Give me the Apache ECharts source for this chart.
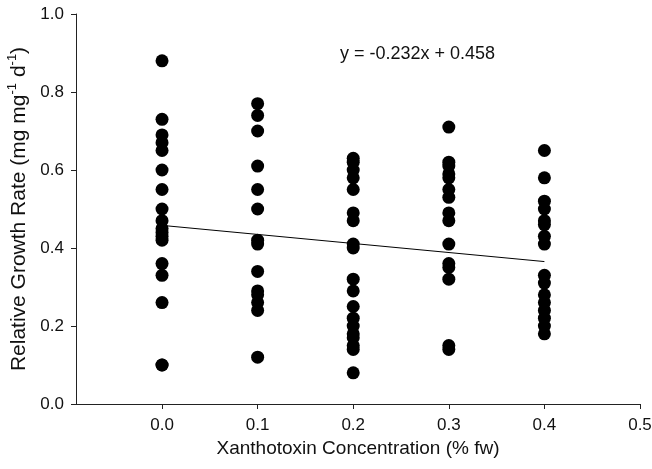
<!DOCTYPE html>
<html><head><meta charset="utf-8">
<script src="https://cdn.jsdelivr.net/npm/echarts@6/dist/echarts.min.js"></script>
<style>html,body{margin:0;padding:0;background:#fff}#c{width:652px;height:469px}</style>
</head><body><div id="c"></div>
<script>
const concentrations = [0.0, 0.1, 0.2, 0.3, 0.4];
const rgr00 = [0.88, 0.73, 0.69, 0.67, 0.65, 0.60, 0.55, 0.50, 0.47, 0.45, 0.44, 0.43, 0.42, 0.36, 0.33, 0.26, 0.10, 0.10];
const rgr01 = [0.77, 0.74, 0.70, 0.61, 0.55, 0.50, 0.42, 0.41, 0.34, 0.29, 0.28, 0.26, 0.24, 0.12];
const rgr02 = [0.63, 0.62, 0.60, 0.58, 0.55, 0.49, 0.47, 0.41, 0.40, 0.32, 0.29, 0.25, 0.22, 0.20, 0.18, 0.17, 0.15, 0.14, 0.08];
const rgr03 = [0.71, 0.62, 0.61, 0.59, 0.58, 0.55, 0.53, 0.49, 0.47, 0.41, 0.36, 0.35, 0.32, 0.15, 0.14];
const rgr04 = [0.65, 0.58, 0.52, 0.50, 0.47, 0.46, 0.43, 0.41, 0.33, 0.31, 0.28, 0.26, 0.24, 0.22, 0.20, 0.18];
const slope = -0.232, intercept = 0.458;
const fitRange = [0.0, 0.4];
const xTicks = [0.0, 0.1, 0.2, 0.3, 0.4, 0.5];

const groups = [rgr00, rgr01, rgr02, rgr03, rgr04];
const points = [];
groups.forEach((g, i) => g.forEach(v => points.push([concentrations[i], v])));
const fitLine = fitRange.map(x => [x, intercept + slope * x]);

const font = 'Liberation Sans, Arial, sans-serif';
const chart = echarts.init(document.getElementById('c'), null, {renderer: 'canvas'});
chart.setOption({
  animation: false,
  backgroundColor: '#fff',
  grid: {left: 76, right: 12, top: 14, bottom: 65, containLabel: false, outerBoundsMode: 'none'},
  xAxis: {
    type: 'value', min: -0.09, max: 0.5,
    axisLine: {show: true, onZero: false, lineStyle: {color: '#222', width: 1}},
    axisTick: {show: true, length: 5, inside: false, lineStyle: {color: '#222'}, customValues: xTicks},
    splitLine: {show: false},
    axisLabel: {
      color: '#111', fontFamily: font, fontSize: 17, margin: 13,
      customValues: xTicks,
      formatter: v => v.toFixed(1)
    },
    name: 'Xanthotoxin Concentration (% fw)',
    nameLocation: 'middle', nameGap: 28,
    nameTextStyle: {color: '#111', fontFamily: font, fontSize: 19}
  },
  yAxis: {
    type: 'value', min: 0, max: 1, interval: 0.2,
    axisLine: {show: true, onZero: false, lineStyle: {color: '#222', width: 1}},
    axisTick: {show: true, length: 5, lineStyle: {color: '#222'}},
    splitLine: {show: false},
    axisLabel: {color: '#111', fontFamily: font, fontSize: 17, margin: 12, formatter: v => v.toFixed(1)},
    name: '{n|Relative Growth Rate (mg mg}{s|-1}{n| d}{s|-1}{n|)}',
    nameLocation: 'middle', nameGap: 44,
    nameTextStyle: {
      color: '#111', fontFamily: font, fontSize: 21,
      rich: {
        n: {fontFamily: font, fontSize: 21, color: '#111', lineHeight: 26, verticalAlign: 'middle'},
        s: {fontFamily: font, fontSize: 13, color: '#111', lineHeight: 26, verticalAlign: 'top'}
      }
    }
  },
  series: [
    {
      type: 'scatter', data: points, symbol: 'circle', symbolSize: 13,
      itemStyle: {color: '#000', opacity: 1}
    },
    {
      type: 'line', data: fitLine, symbol: 'none',
      lineStyle: {color: '#000', width: 1}, z: 3
    }
  ],
  graphic: [{
    type: 'text', left: 340, top: 45,
    style: {text: 'y = -0.232x + 0.458', font: '18px ' + font, fill: '#111'}
  }]
});
</script></body></html>
